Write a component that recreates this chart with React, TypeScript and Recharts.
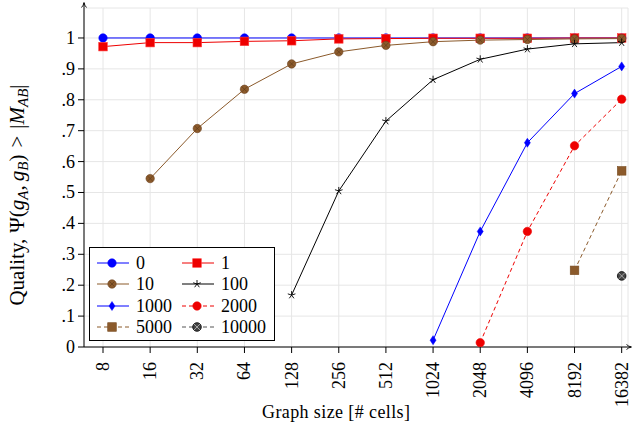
import React from "react";
import { LineChart, Line, XAxis, YAxis, CartesianGrid, Legend } from "recharts";

// graph sizes (x categories, label "16382" kept as in the figure)
const sizes = ["8", "16", "32", "64", "128", "256", "512", "1024", "2048", "4096", "8192", "16382"];
const yTicks = [0, 0.1, 0.2, 0.3, 0.4, 0.5, 0.6, 0.7, 0.8, 0.9, 1];

const q0 = [1, 1, 1, 1, 1, 1, 1, 1, 1, 1, 1, 1];
const q1 = [0.972, 0.985, 0.985, 0.989, 0.991, 0.997, 0.998, 0.999, 0.999, 0.999, 1, 1];
const q10 = [null, 0.545, 0.707, 0.834, 0.916, 0.955, 0.976, 0.988, 0.993, 0.995, 0.997, 0.998];
const q100 = [null, null, null, null, 0.168, 0.505, 0.731, 0.865, 0.931, 0.964, 0.981, 0.985];
const q1000 = [null, null, null, null, null, null, null, 0.022, 0.374, 0.661, 0.82, 0.908];
const q2000 = [null, null, null, null, null, null, null, null, 0.014, 0.374, 0.651, 0.802];
const q5000 = [null, null, null, null, null, null, null, null, null, null, 0.248, 0.57];
const q10000 = [null, null, null, null, null, null, null, null, null, null, null, 0.23];

const BLUE = "#0000ff";
const RED = "#ee0000";
const BROWN = "#8b5a2b";
const FONT = "Liberation Serif";

type Mark = "circle" | "square" | "star" | "diamond" | "otimes";

const series: { key: string; name: string; values: (number | null)[]; color: string; dash?: string; mark: Mark; fill: string }[] = [
  { key: "s0", name: "0", values: q0, color: BLUE, mark: "circle", fill: BLUE },
  { key: "s1", name: "1", values: q1, color: RED, mark: "square", fill: RED },
  { key: "s10", name: "10", values: q10, color: BROWN, mark: "circle", fill: BROWN },
  { key: "s100", name: "100", values: q100, color: "#000", mark: "star", fill: "#000" },
  { key: "s1000", name: "1000", values: q1000, color: BLUE, mark: "diamond", fill: BLUE },
  { key: "s2000", name: "2000", values: q2000, color: RED, dash: "4 3", mark: "circle", fill: RED },
  { key: "s5000", name: "5000", values: q5000, color: BROWN, dash: "4 3", mark: "square", fill: BROWN },
  { key: "s10000", name: "10000", values: q10000, color: "#555", dash: "4 3", mark: "otimes", fill: "#444" },
];

const data = sizes.map((s, i) => {
  const row: any = { i, size: s };
  series.forEach((sr) => (row[sr.key] = sr.values[i]));
  return row;
});

const Marker = ({ cx, cy, mark, fill }: { cx: number; cy: number; mark: Mark; fill: string }) => {
  if (mark === "circle") {
    const brown = fill === BROWN;
    return (
      <g>
        <circle cx={cx} cy={cy} r={4.2} fill={fill} stroke={brown ? "#6b4220" : fill} strokeWidth={0.6} />
        {brown && (
          <path d={`M${cx - 2.5},${cy - 2.5}L${cx + 2.5},${cy + 2.5}M${cx - 2.5},${cy + 2.5}L${cx + 2.5},${cy - 2.5}`} stroke="#5a3818" strokeWidth={0.6} />
        )}
      </g>
    );
  }
  if (mark === "square") return <rect x={cx - 4.3} y={cy - 4.3} width={8.6} height={8.6} fill={fill} stroke={fill === RED ? "#ff4040" : "#7a4d22"} strokeWidth={0.6} />;
  if (mark === "diamond")
    return <path d={`M${cx},${cy - 4.5}L${cx + 3},${cy}L${cx},${cy + 4.5}L${cx - 3},${cy}Z`} fill={fill} stroke={fill} strokeWidth={0.5} />;
  if (mark === "star") {
    let d = "";
    for (let k = 0; k < 5; k++) {
      const a = (-90 + 72 * k) * (Math.PI / 180);
      d += `M${cx},${cy}L${cx + 4 * Math.cos(a)},${cy + 4 * Math.sin(a)}`;
    }
    return <path d={d} stroke="#000" strokeWidth={0.9} fill="none" />;
  }
  return (
    <g>
      <circle cx={cx} cy={cy} r={4.3} fill="#444" stroke="#000" strokeWidth={0.8} />
      <path d={`M${cx - 3},${cy - 3}L${cx + 3},${cy + 3}M${cx - 3},${cy + 3}L${cx + 3},${cy - 3}`} stroke="#bbb" strokeWidth={0.8} />
    </g>
  );
};

const XTick = ({ x, y, payload }: any) => (
  <text
    transform={`translate(${x + 6},${y + 7}) rotate(-90)`}
    textAnchor="end"
    fontFamily={FONT}
    fontSize={18}
    fill="#000"
  >
    {sizes[payload.value]}
  </text>
);

const fmtY = (v: number) => (v === 0 ? "0" : v === 1 ? "1" : "." + Math.round(v * 10));

const YTick = ({ x, y, payload }: any) => (
  <text x={x - 1} y={y + 6} textAnchor="end" fontFamily={FONT} fontSize={18} fill="#000">
    {fmtY(payload.value)}
  </text>
);

const LegendBox = () => (
  <div
    style={{
      border: "1px solid #000",
      background: "#fff",
      width: 186,
      height: 94,
      display: "grid",
      gridTemplateColumns: "85px 85px",
      gridAutoRows: "21.5px",
      padding: "4px 0 0 6px",
      boxSizing: "border-box",
    }}
  >
    {series.map((s) => (
      <div key={s.key} style={{ display: "flex", alignItems: "center", height: 21.5 }}>
        <svg width={34} height={14} style={{ flex: "none" }}>
          <line x1={1} y1={7} x2={33} y2={7} stroke={s.color} strokeWidth={1} strokeDasharray={s.dash} />
          <Marker cx={16} cy={7} mark={s.mark} fill={s.fill} />
        </svg>
        <span style={{ marginLeft: 6, lineHeight: "18px", fontFamily: "'Liberation Serif', serif", fontSize: 18, color: "#000" }}>{s.name}</span>
      </div>
    ))}
  </div>
);

const YLabel = () => (
  <text transform="translate(24,195) rotate(-90)" textAnchor="middle" fontFamily={FONT} fontSize={21} fill="#000">
    <tspan>Quality,</tspan>
    <tspan dx={6}>Ψ(</tspan>
    <tspan fontStyle="italic">g</tspan>
    <tspan fontStyle="italic" fontSize={15} dy={4}>A</tspan>
    <tspan dy={-4}>,</tspan>
    <tspan fontStyle="italic" dx={4}>g</tspan>
    <tspan fontStyle="italic" fontSize={15} dy={4}>B</tspan>
    <tspan dy={-4}>)</tspan>
    <tspan dx={7}>&gt;</tspan>
    <tspan dx={7}>|</tspan>
    <tspan fontStyle="italic">M</tspan>
    <tspan fontStyle="italic" fontSize={15} dy={4}>AB</tspan>
    <tspan dy={-4}>|</tspan>
  </text>
);

const XLabel = () => (
  <text x={336} y={418} textAnchor="middle" fontFamily={FONT} fontSize={18} fill="#000" textLength={148} lengthAdjust="spacing">
    Graph size [# cells]
  </text>
);

export default function App() {
  return (
    <div style={{ position: "absolute", left: 0, top: 0, width: 632, height: 426 }}>
      <LineChart width={632} height={426} data={data} margin={{ top: 8, right: 4, left: 0, bottom: 0 }}>
        <CartesianGrid stroke="#e6e6e6" strokeWidth={1} />
        <XAxis
          type="number"
          dataKey="i"
          domain={[-0.403, 11.134]}
          ticks={sizes.map((_, i) => i)}
          allowDataOverflow
          height={79}
          axisLine={{ stroke: "#000" }}
          tickLine={{ stroke: "#000" }}
          tickSize={6}
          tick={<XTick />}
          interval={0}
          label={<XLabel />}
        />
        <YAxis
          type="number"
          domain={[0, 1.097]}
          ticks={yTicks}
          allowDataOverflow
          width={84}
          axisLine={{ stroke: "#000" }}
          tickLine={{ stroke: "#000" }}
          tickSize={6}
          tick={<YTick />}
          interval={0}
          label={<YLabel />}
        />
        {series.map((s) => (
          <Line
            key={s.key}
            dataKey={s.key}
            name={s.name}
            type="linear"
            stroke={s.color}
            strokeWidth={1}
            strokeDasharray={s.dash}
            isAnimationActive={false}
            connectNulls={false}
            activeDot={false}
            dot={(p: any) =>
              p.cy == null || p.value == null ? (
                <g key={`${s.key}-${p.index}`} />
              ) : (
                <Marker key={`${s.key}-${p.index}`} cx={p.cx} cy={p.cy} mark={s.mark} fill={s.fill} />
              )
            }
          />
        ))}
        <Legend
          layout="vertical"
          align="center"
          verticalAlign="middle"
          content={<LegendBox />}
          wrapperStyle={{ left: 89, top: 247, width: 188, height: 96 }}
        />
      </LineChart>
      <svg width={632} height={426} style={{ position: "absolute", left: 0, top: 0, pointerEvents: "none" }}>
        <path d="M84,8L84,3" stroke="#000" strokeWidth={1} />
        <path d="M81.5,7.5Q83.5,5.5 84,2.5Q84.5,5.5 86.5,7.5" stroke="#000" strokeWidth={0.9} fill="none" />
        <path d="M628,347L631,347" stroke="#000" strokeWidth={1} />
        <path d="M626.5,344.5Q628.5,346.5 631.5,347Q628.5,347.5 626.5,349.5" stroke="#000" strokeWidth={0.9} fill="none" />
      </svg>
    </div>
  );
}
